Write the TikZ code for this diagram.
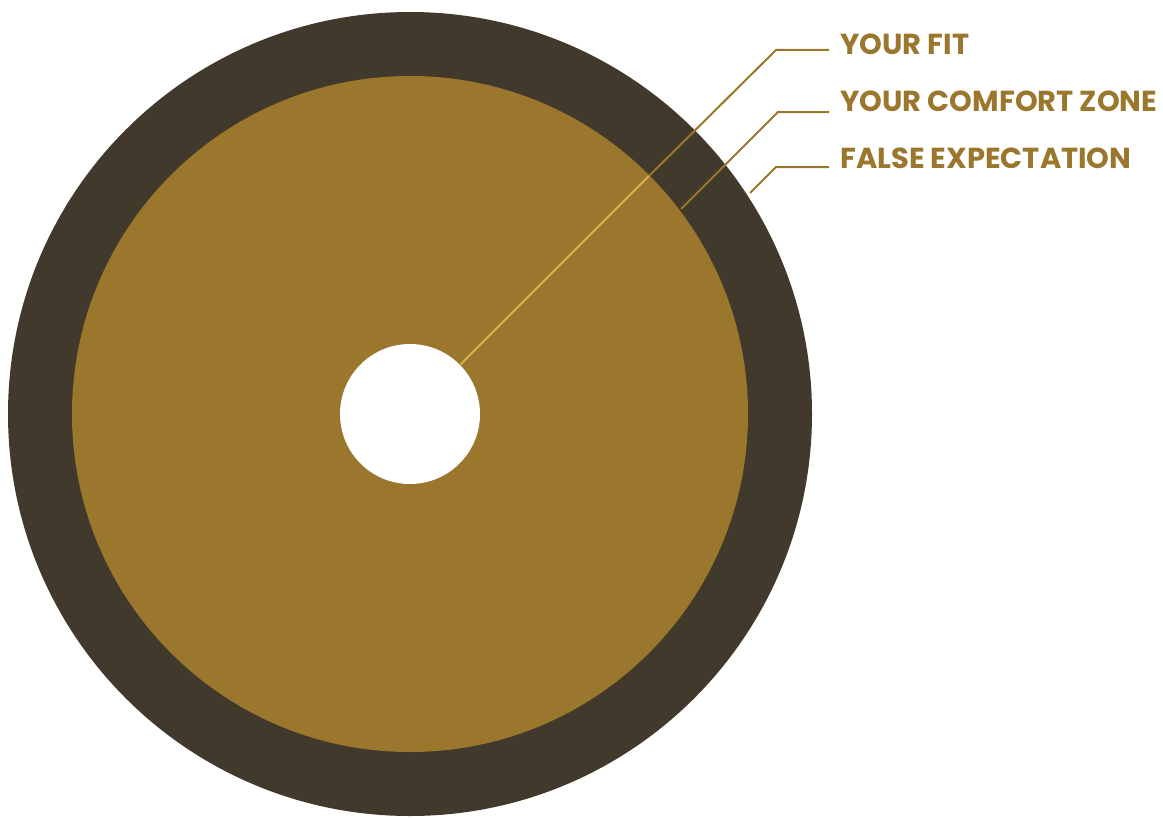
\documentclass[tikz,border=0pt]{standalone}
\usepackage{fontspec}
\setmainfont{Poppins}
\definecolor{ringdark}{HTML}{41392B}
\definecolor{gold}{HTML}{9B762D}
\definecolor{goldlight}{HTML}{D6B24C}
\begin{document}
\begin{tikzpicture}[x=0.75pt,y=-0.75pt,
  lbl/.style={anchor=base west,inner sep=0pt,text=gold,font=\bfseries\fontsize{21.7}{25}\selectfont},
  leader/.style={draw=gold,line width=1.5pt},
  leaderin/.style={draw=goldlight,line width=1.5pt}]
\useasboundingbox (0,0) rectangle (1163,817);
\fill[ringdark] (410,414) circle (402);
\fill[gold] (410,414) circle (338);
\fill[white] (410,414) circle (70);
% coordinates
\coordinate (fitS) at (460,365);
\coordinate (fitB) at (649,176);
\coordinate (fitE) at (776,50);
\coordinate (fitH) at (829,50);
\coordinate (czS) at (681,209);
\coordinate (czE) at (778,112);
\coordinate (czH) at (829,112);
\coordinate (feS) at (750,193);
\coordinate (feE) at (776,167);
\coordinate (feH) at (829,167);
\node[lbl] (fit) at (840,55) {YOUR FIT};
\node[lbl] (cz) at (840,112) {YOUR COMFORT ZONE};
\node[lbl] (fe) at (840,168) {FALSE EXPECTATION};
\draw[leaderin] (fitS) -- (fitB);
\draw[leader] (fitB) -- (fitE) -- (fitH);
\draw[leader] (czS) -- (czE) -- (czH);
\draw[leader] (feS) -- (feE) -- (feH);
\end{tikzpicture}
\end{document}
